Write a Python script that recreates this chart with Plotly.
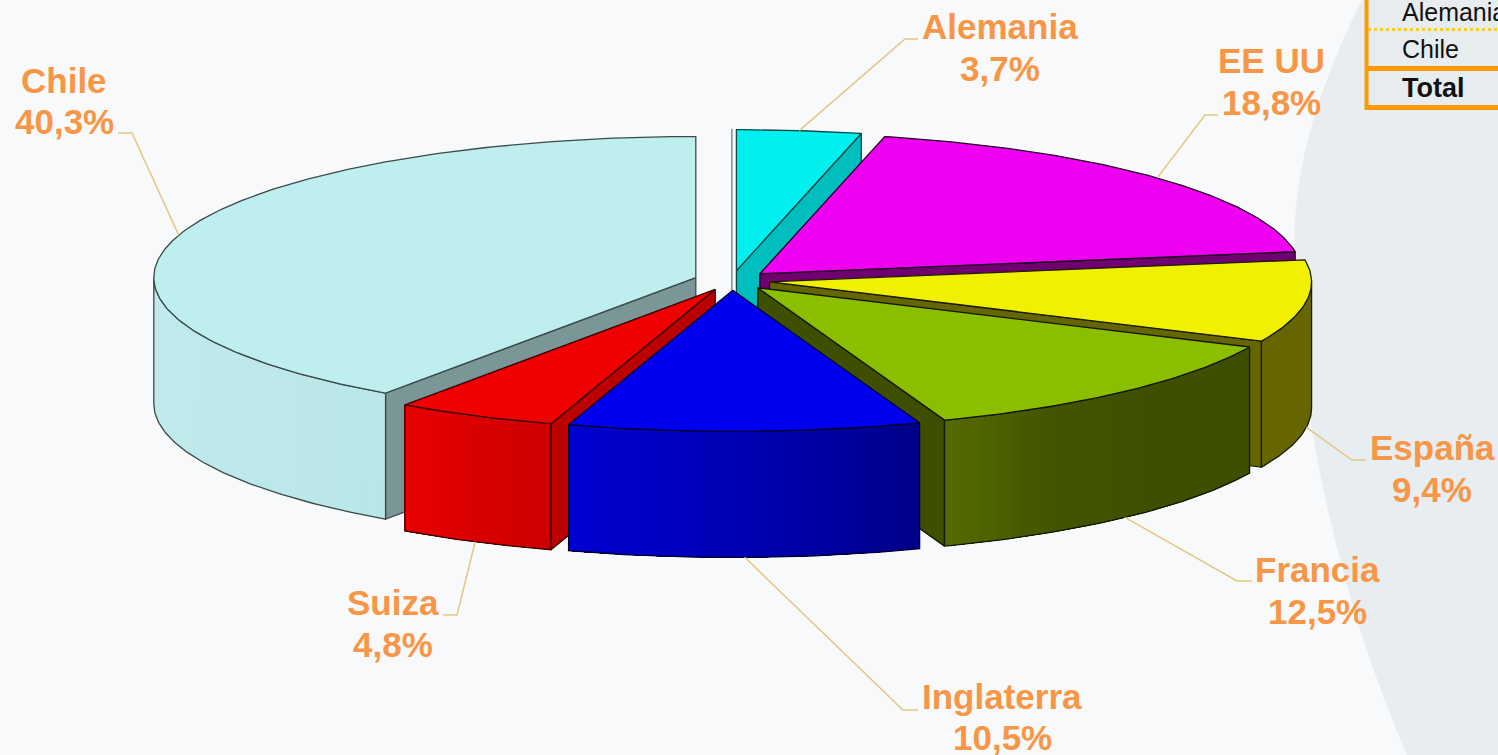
import math
import plotly.graph_objects as go

# ---- data ----
countries = ["Alemania", "EE UU", "España", "Francia", "Inglaterra", "Suiza", "Chile"]
shares = [3.7, 18.8, 9.4, 12.5, 10.5, 4.8, 40.3]
share_labels = ["3,7%", "18,8%", "9,4%", "12,5%", "10,5%", "4,8%", "40,3%"]

table_rows = ["Alemania", "Chile"]
table_total = "Total"

# ---- styles ----
top_colors = ["#00F0F0", "#F000F0", "#F0F000", "#8CBE00", "#0000F0", "#F00000", "#BEEEEE"]
cut_colors = ["#00BEBE", "#700070", "#666600", "#3F4F00", "#000088", "#BB0000", "#7A9696"]
wall_stops = [
    ["#00BEBE"], ["#700070"], ["#666600"],
    ["#556B00", "#445500", "#3F4F00", "#3F4F00"],
    ["#0000D2", "#0000B4", "#000088"],
    ["#E80000", "#CC0000"],
    ["#C0EAEC", "#B9E6E8"],
]
edge_colors = ["#064848", "#200020", "#1C1C00", "#121800", "#000030", "#3A0000", "#3C4A4C"]
label_color = "#F79646"
leader_color = "#E3C77F"
table_orange = "#FF9900"

# pie geometry (pixels in the axis space)
CX, CY, RX, RY = 732.0, 280.5, 542.0, 141.0
EXPLODE, DEPTH = 0.07, 126.0

# label line centres, leader elbow, leader end
label_x = [1000, 1271, 1432, 1317, 1002, 393, 64]
name_y = [26, 60, 447, 569, 696, 602, 80]
share_y = [68, 102, 489, 611, 737, 644, 121]
elbows = [(905, 39), (1205, 115), (1352, 460), (1237, 581), (903, 710), (457, 615), (132, 133)]
ends = [(918, 39), (1218, 115), (1366, 460), (1252, 581), (918, 710), (443, 615), (118, 133)]
paint_order = [6, 0, 1, 2, 3, 5, 4]

# ---- helpers ----
def hex2rgb(h):
    return tuple(int(h[i:i + 2], 16) for i in (1, 3, 5))

def grad(stops, t):
    if len(stops) == 1:
        return stops[0]
    p = t * (len(stops) - 1)
    i = min(int(p), len(stops) - 2)
    f = p - i
    a, b = hex2rgb(stops[i]), hex2rgb(stops[i + 1])
    return "rgb(%d,%d,%d)" % tuple(round(a[k] + (b[k] - a[k]) * f) for k in range(3))

def rim(ax, ay, deg, dz=0.0):
    r = math.radians(deg)
    return ax + RX * math.sin(r), ay - RY * math.cos(r) + dz

def arc(ax, ay, a0, a1, dz=0.0, n=None):
    n = n or max(2, int(abs(a1 - a0) * 1.5))
    return [rim(ax, ay, a0 + (a1 - a0) * i / n, dz) for i in range(n + 1)]

fig = go.Figure()

def poly(pts, fill=None, line=None, width=1.3, close=True):
    xs = [p[0] for p in pts]
    ys = [p[1] for p in pts]
    if close:
        xs.append(xs[0]); ys.append(ys[0])
    fig.add_trace(go.Scatter(
        x=xs, y=ys, mode="lines" if line else "none",
        fill="toself" if fill else "none", fillcolor=fill,
        line=dict(color=line, width=width) if line else None,
        hoverinfo="skip", showlegend=False))

# angular extents
starts, stops_, acc = [], [], 0.0
for v in shares:
    starts.append(acc * 3.6)
    acc += v
    stops_.append(acc * 3.6)

apexes = []
for a0, a1 in zip(starts, stops_):
    m = math.radians((a0 + a1) / 2)
    apexes.append((CX + RX * EXPLODE * math.sin(m), CY - RY * EXPLODE * math.cos(m)))

for i in paint_order:
    a0, a1 = starts[i], stops_[i]
    ax, ay = apexes[i]
    edge = edge_colors[i]
    # thin open edge of the slice that starts at the top
    if a0 == 0:
        sx = ax - 4.5
        poly([(sx, ay - RY - 1), (sx, ay + 30)], line="#6E797B", width=1.3, close=False)
    # radial cut faces that turn towards the viewer
    for deg, show in ((a0, math.sin(math.radians(a0)) < -1e-9), (a1, math.sin(math.radians(a1)) > 1e-9)):
        if show:
            rx_, ry_ = rim(ax, ay, deg)
            poly([(ax, ay), (rx_, ry_), (rx_, ry_ + DEPTH), (ax, ay + DEPTH)],
                 fill=cut_colors[i], line=edge)
    # outer wall: every strip runs to the far end of the wall and is painted over
    # by the next one, so no seams can show between strips
    w0, w1 = max(a0, 90.0), min(a1, 270.0)
    if w0 < w1:
        n = 1 if len(wall_stops[i]) == 1 else 45
        xa, xb = sorted((rim(ax, ay, w0)[0], rim(ax, ay, w1)[0]))
        for k in range(n):
            d0 = w0 + (w1 - w0) * k / n
            t = (rim(ax, ay, d0 + (w1 - w0) / (2 * n))[0] - xa) / max(xb - xa, 1)
            poly(arc(ax, ay, d0, w1) + arc(ax, ay, w1, d0, DEPTH), fill=grad(wall_stops[i], t))
        poly(arc(ax, ay, w0, w1) + arc(ax, ay, w1, w0, DEPTH), line=edge)
    # top face
    poly([(ax, ay)] + arc(ax, ay, a0, a1), fill=top_colors[i], line=edge)

# leader lines, starting at the rim below each slice's mid angle
for i in range(len(shares)):
    mid = (starts[i] + stops_[i]) / 2
    ax, ay = apexes[i]
    dz = DEPTH if 90 < mid < 270 else 0.0
    poly([rim(ax, ay, mid, dz), elbows[i], ends[i]], line=leader_color, width=1.5, close=False)

annotations = []
for k in range(len(countries)):
    for txt, y in ((countries[k], name_y[k]), (share_labels[k], share_y[k])):
        annotations.append(dict(
            x=label_x[k], y=y, xref="x", yref="y", showarrow=False, align="center",
            xanchor="center", yanchor="middle", text=f"<b>{txt}</b>",
            font=dict(family="Liberation Sans", size=35, color=label_color)))

TX = 1400
for row, y in zip(table_rows, (12, 49)):
    annotations.append(dict(
        x=TX, y=y, xref="x", yref="y", showarrow=False, xanchor="left", yanchor="middle",
        text=row, font=dict(family="Liberation Sans", size=25, color="#111111")))
annotations.append(dict(
    x=TX, y=88, xref="x", yref="y", showarrow=False, xanchor="left", yanchor="middle",
    text=f"<b>{table_total}</b>", font=dict(family="Liberation Sans", size=27, color="#111111")))

shapes = [
    dict(type="path", xref="x", yref="y", layer="below", line_width=0, fillcolor="#E7EDF0",
         path="M1362,0 C1322,80 1290,170 1295,260 C1300,420 1340,600 1407,755 L1498,755 L1498,0 Z"),
    dict(type="rect", xref="x", yref="y", layer="below", x0=1366, x1=1498, y0=0, y1=108,
         line_width=0, fillcolor="#E7ECEF"),
    dict(type="line", xref="x", yref="y", x0=1366.5, x1=1366.5, y0=0, y1=110,
         line=dict(color=table_orange, width=4)),
    dict(type="line", xref="x", yref="y", x0=1365, x1=1498, y0=68.5, y1=68.5,
         line=dict(color=table_orange, width=5)),
    dict(type="line", xref="x", yref="y", x0=1365, x1=1498, y0=107.5, y1=107.5,
         line=dict(color=table_orange, width=5)),
    dict(type="line", xref="x", yref="y", x0=1368, x1=1498, y0=29.5, y1=29.5,
         line=dict(color="#FFC81E", width=3, dash="3px,3px")),
]

fig.update_layout(
    width=1498, height=755, autosize=False,
    margin=dict(l=0, r=0, t=0, b=0, pad=0),
    paper_bgcolor="#F7F9FA", plot_bgcolor="#F7F9FA",
    xaxis=dict(range=[0, 1498], visible=False, fixedrange=True),
    yaxis=dict(range=[755, 0], visible=False, fixedrange=True),
    shapes=shapes, annotations=annotations, showlegend=False,
)

fig.write_html("out.html", config={"displayModeBar": False},
               post_script="document.body.style.margin='0';document.body.style.overflow='hidden';")
